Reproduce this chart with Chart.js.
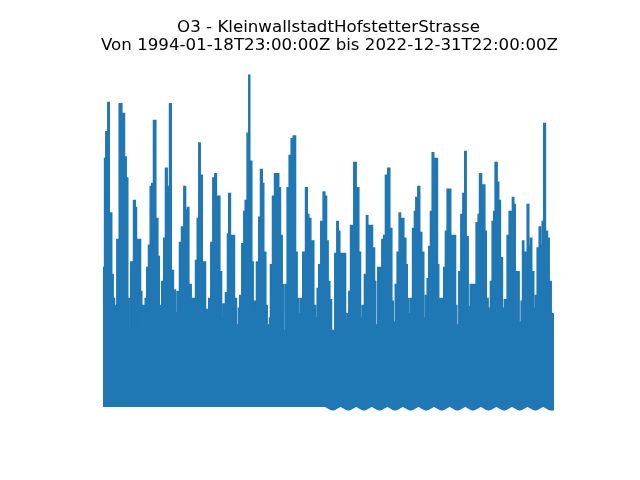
<!DOCTYPE html>
<html lang="de">
<head>
    <meta charset="UTF-8">
    <title>O3 - KleinwallstadtHofstetterStrasse</title>
    <script src="https://cdn.jsdelivr.net/npm/chart.js"></script>
    <style>
        body {
            margin: 0;
            padding: 0;
            background: #ffffff;
        }
    </style>
</head>
<body>
    <canvas id="o3Chart" width="640" height="480"></canvas>

    <script>
        const titelZeilen = [
            'O3 - KleinwallstadtHofstetterStrasse',
            'Von 1994-01-18T23:00:00Z bis 2022-12-31T22:00:00Z'
        ];

        // Zeitabschnitte (Beginn, Dezimaljahre) und obere Huellkurve der Stundenwerte
        const zeit = [
            1994.05, 1994.15, 1994.23, 1994.36, 1994.45, 1994.61, 1994.70, 1994.79, 1994.94,
            1995.09, 1995.26, 1995.43, 1995.54, 1995.64, 1995.73, 1995.83,
            1996.01, 1996.12, 1996.20, 1996.46, 1996.54, 1996.67, 1996.76, 1996.86, 1996.97,
            1997.08, 1997.18, 1997.29, 1997.44, 1997.57, 1997.66, 1997.74, 1997.82, 1997.95,
            1998.06, 1998.17, 1998.32, 1998.43, 1998.57, 1998.70, 1998.81, 1998.96,
            1999.09, 1999.24, 1999.35, 1999.47, 1999.56, 1999.71, 1999.77, 1999.99,
            2000.10, 2000.20, 2000.29, 2000.42, 2000.63, 2000.74, 2000.84, 2000.97,
            2001.10, 2001.23, 2001.33, 2001.55, 2001.66, 2001.76, 2001.91,
            2002.04, 2002.12, 2002.23, 2002.49, 2002.62, 2002.75, 2002.83, 2002.96,
            2003.09, 2003.18, 2003.30, 2003.41, 2003.47, 2003.60, 2003.69, 2003.77, 2003.90,
            2004.05, 2004.16, 2004.27, 2004.37, 2004.50, 2004.59, 2004.74, 2004.80, 2004.93,
            2005.06, 2005.33, 2005.44, 2005.55, 2005.65, 2005.76, 2005.87,
            2006.00, 2006.13, 2006.26, 2006.41, 2006.51, 2006.62, 2006.73, 2006.87,
            2007.05, 2007.16, 2007.26, 2007.39, 2007.58, 2007.69, 2007.80, 2007.90,
            2008.03, 2008.18, 2008.29, 2008.40, 2008.50, 2008.61, 2008.72, 2008.84, 2008.93,
            2009.06, 2009.15, 2009.25, 2009.62, 2009.72, 2009.83, 2009.94,
            2010.05, 2010.15, 2010.30, 2010.47, 2010.58, 2010.69, 2010.83, 2010.96,
            2011.05, 2011.35, 2011.48, 2011.56, 2011.69, 2011.95,
            2012.07, 2012.18, 2012.33, 2012.46, 2012.59, 2012.68, 2012.81, 2012.93,
            2013.06, 2013.15, 2013.36, 2013.49, 2013.58, 2013.68, 2013.79, 2013.92,
            2014.04, 2014.13, 2014.26, 2014.38, 2014.51, 2014.64, 2014.75, 2014.86, 2014.96,
            2015.07, 2015.18, 2015.28, 2015.52, 2015.60, 2015.69, 2015.92,
            2016.03, 2016.14, 2016.37, 2016.68, 2016.76, 2016.89,
            2017.02, 2017.15, 2017.27, 2017.36, 2017.49, 2017.62,
            2018.00, 2018.13, 2018.22, 2018.35, 2018.56, 2018.65, 2018.77, 2018.92,
            2019.03, 2019.13, 2019.22, 2019.35, 2019.45, 2019.56, 2019.69, 2019.82, 2019.99,
            2020.12, 2020.25, 2020.33, 2020.42, 2020.51, 2020.76, 2020.89, 2020.98,
            2021.06, 2021.28, 2021.38, 2021.49, 2021.57, 2021.70, 2021.81, 2021.92,
            2022.05, 2022.13, 2022.24, 2022.34, 2022.45, 2022.58, 2022.69, 2022.82, 2022.91,
            2023.00
        ];
        const spitze = [
            76, 102, 180, 199, 220, 141, 97, 80, 75,
            122, 219, 212, 181, 166, 80, 59,
            106, 150, 145, 122, 85, 75, 59, 80, 102,
            118, 160, 162, 207, 137, 110, 70, 75, 92,
            123, 173, 160, 219, 100, 86, 70, 85,
            120, 131, 160, 143, 145, 90, 70, 80,
            107, 137, 191, 168, 106, 72, 66, 80,
            120, 166, 169, 153, 99, 66, 76,
            84, 126, 155, 125, 80, 61, 73, 82,
            119, 142, 150, 198, 240, 178, 106, 71, 78,
            106, 138, 172, 162, 113, 75, 61, 66, 104,
            153, 169, 159, 125, 90, 57, 90,
            159, 182, 194, 196, 113, 80, 69, 80,
            113, 159, 140, 137, 121, 75, 66, 87,
            104, 135, 156, 153, 121, 92, 79, 57, 44,
            112, 135, 128, 112, 63, 69, 85,
            132, 131, 177, 159, 113, 66, 75, 97,
            139, 132, 116, 92, 61, 102,
            122, 125, 168, 173, 130, 78, 63, 90,
            113, 141, 137, 123, 104, 80, 69, 80,
            130, 142, 152, 160, 127, 113, 66, 82, 94,
            117, 142, 184, 180, 104, 70, 80,
            102, 128, 158, 125, 75, 61,
            99, 140, 155, 185, 124, 74,
            90, 134, 140, 169, 161, 128, 80, 73,
            92, 135, 142, 177, 163, 150, 109, 73, 79,
            125, 142, 134, 152, 147, 99, 63, 78,
            121, 113, 147, 117, 123, 99, 73, 82,
            116, 131, 118, 135, 205, 128, 123, 92, 69,
            69
        ];

        // untere Huellkurve (Minima, Winter / Sommer)
        const zeitMin = [
            1994.05, 2008.30, 2008.80, 2009.30, 2009.80, 2010.30, 2010.80, 2011.30, 2011.80,
            2012.30, 2012.80, 2013.30, 2013.80, 2014.30, 2014.80, 2015.30, 2015.80,
            2016.30, 2016.80, 2017.30, 2017.80, 2018.30, 2018.80, 2019.30, 2019.80,
            2020.30, 2020.80, 2021.30, 2021.80, 2022.30, 2022.80, 2023.00
        ];
        const minimum = [
            3, 3, 0, 3, 0, 3, 0, 3, 0,
            3, 0, 3, 0, 3, 0, 3, 0,
            3, 0, 3, 0, 3, 0, 3, 0,
            3, 0, 3, 0, 3, 0, 0
        ];

        const blau = '#1f77b4';

        const titelPlugin = {
            id: 'titel',
            afterDraw(chart) {
                const ctx = chart.ctx;
                const mitte = (chart.chartArea.left + chart.chartArea.right) / 2;
                ctx.save();
                ctx.fillStyle = '#000000';
                ctx.font = '16.67px "DejaVu Sans"';
                ctx.textAlign = 'center';
                ctx.textBaseline = 'alphabetic';
                ctx.fillText(titelZeilen[0], mitte, 32);
                ctx.fillText(titelZeilen[1], mitte + 1, 49.5);
                ctx.restore();
            }
        };

        const ctxO3 = document.getElementById('o3Chart').getContext('2d');
        new Chart(ctxO3, {
            type: 'line',
            data: {
                datasets: [
                    {
                        label: 'O3',
                        data: zeit.map((t, i) => ({ x: t, y: spitze[i] })),
                        borderColor: blau,
                        backgroundColor: blau,
                        borderWidth: 1.5,
                        pointRadius: 0,
                        stepped: 'after',
                        fill: '+1'
                    },
                    {
                        label: 'O3 min',
                        data: zeitMin.map((t, i) => ({ x: t, y: minimum[i] })),
                        borderColor: blau,
                        backgroundColor: blau,
                        borderWidth: 1.5,
                        pointRadius: 0,
                        tension: 0,
                        fill: false
                    }
                ]
            },
            options: {
                responsive: false,
                animation: false,
                layout: {
                    padding: { left: 103, right: 86, top: 74.4, bottom: 69.6 }
                },
                scales: {
                    x: { type: 'linear', min: 1994.05, max: 2023.0, display: false },
                    y: { min: 0, max: 240, display: false }
                },
                plugins: {
                    legend: { display: false },
                    tooltip: { enabled: false },
                    title: { display: false }
                }
            },
            plugins: [titelPlugin]
        });
    </script>
</body>
</html>
